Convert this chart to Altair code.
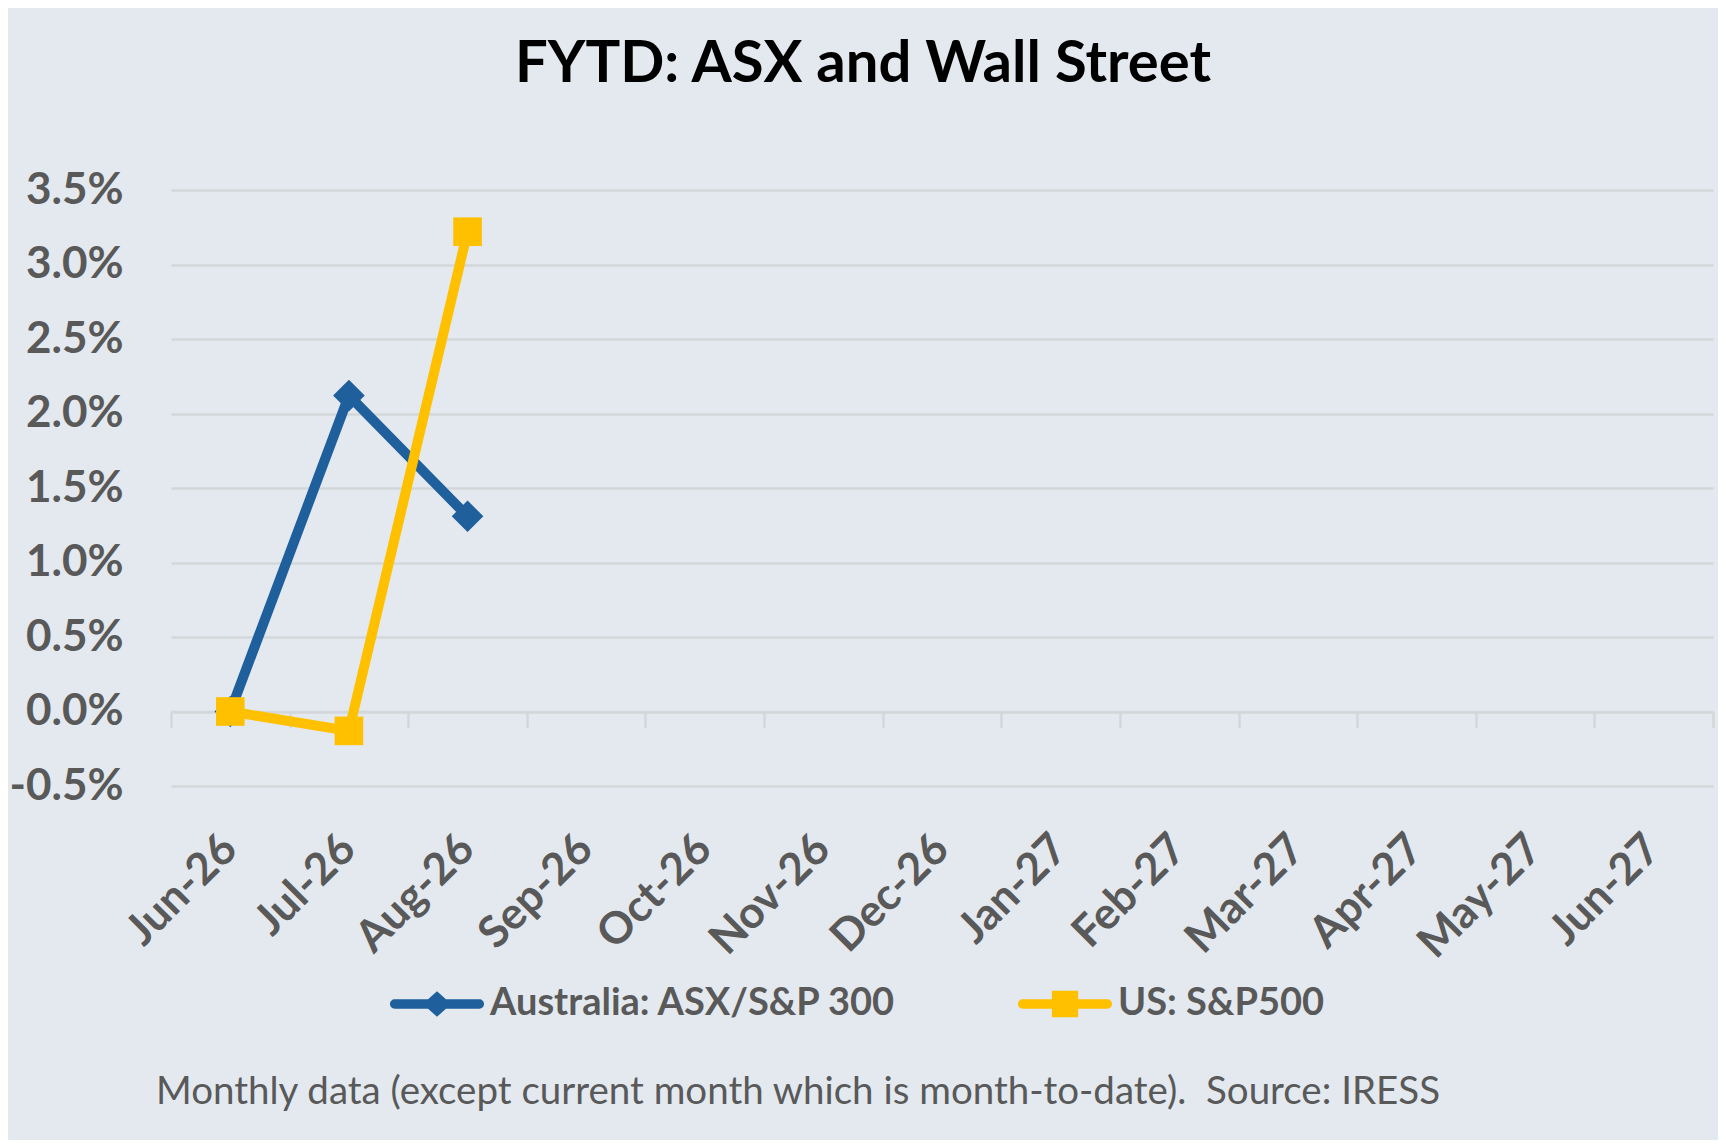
import altair as alt
import pandas as pd

# ---------------- data ----------------
months = ["Jun-26", "Jul-26", "Aug-26", "Sep-26", "Oct-26", "Nov-26", "Dec-26",
          "Jan-27", "Feb-27", "Mar-27", "Apr-27", "May-27", "Jun-27"]
asx_label = "Australia: ASX/S&P 300"
sp_label = "US: S&P500"
asx_months = ["Jun-26", "Jul-26", "Aug-26"]
asx_values = [0.0, 2.12, 1.31]          # percent
sp_months = ["Jun-26", "Jul-26", "Aug-26"]
sp_values = [0.0, -0.13, 3.22]          # percent
y_ticks = [-0.5, 0.0, 0.5, 1.0, 1.5, 2.0, 2.5, 3.0, 3.5]   # percent
title_text = "FYTD: ASX and Wall Street"
footnote_text = "Monthly data (except current month which is month-to-date).  Source: IRESS"

rows = []
for m, v in zip(asx_months, asx_values):
    rows.append({"month": m, "value": v / 100, "series": asx_label})
for m, v in zip(sp_months, sp_values):
    rows.append({"month": m, "value": v / 100, "series": sp_label})
df = pd.DataFrame(rows)
note_df = pd.DataFrame({"t": [footnote_text.replace("  ", "\u00a0 ")]})

# ---------------- style ----------------
W, H = 1542, 596
PAD = {"left": 163, "top": 182, "right": 5, "bottom": 354}
BG = "#E3E9EF"
GRID = "#D4D7DA"
LABEL = "#595959"
BLUE = "#1F5F9B"
GOLD = "#FFC000"
FONT = "Lato"

y_min, y_max = y_ticks[0] / 100, y_ticks[-1] / 100
zero_offset = -H * (0 - y_min) / (y_max - y_min)

x_scale = alt.Scale(type="band", domain=months, paddingInner=0, paddingOuter=0)
y_scale = alt.Scale(domain=[y_min, y_max], nice=False, zero=False)
col_scale = alt.Scale(domain=[asx_label, sp_label], range=[BLUE, GOLD])

DIAMOND = ("M-0.9,-0.1 L-0.19,-0.1 L0,-0.27 L0.19,-0.1 L0.9,-0.1 "
           "A0.1,0.1 0 0 1 0.9,0.1 L0.19,0.1 L0,0.27 L-0.19,0.1 L-0.9,0.1 "
           "A0.1,0.1 0 0 1 -0.9,-0.1 Z")
SQUARE = ("M-0.9,-0.1 L-0.28,-0.1 L-0.28,-0.28 L0.28,-0.28 L0.28,-0.1 L0.9,-0.1 "
          "A0.1,0.1 0 0 1 0.9,0.1 L0.28,0.1 L0.28,0.28 L-0.28,0.28 L-0.28,0.1 L-0.9,0.1 "
          "A0.1,0.1 0 0 1 -0.9,-0.1 Z")
sym_expr = f"datum.value === '{asx_label}' ? '{DIAMOND}' : '{SQUARE}'"

legend = alt.Legend(orient="none", legendX=219, legendY=767,
                    direction="horizontal", title=None,
                    symbolType={"expr": sym_expr},
                    symbolSize=94 * 94, symbolStrokeWidth=0, symbolOpacity=1,
                    labelFont=FONT, labelFontSize=38, labelFontWeight="bold",
                    labelColor=LABEL, labelOffset=6, columnPadding=120, labelLimit=0)

tick_axis = alt.Axis(orient="bottom", offset=zero_offset, labels=False,
                     domain=True, domainColor=GRID, domainWidth=2.5,
                     ticks=True, tickColor=GRID, tickWidth=2.5, tickSize=16,
                     tickBand="extent", grid=False, title=None)
label_axis = alt.Axis(orient="bottom", domain=False, ticks=False, grid=False,
                      labelAngle=-45, labelAlign="right", labelBaseline="middle",
                      labelPadding=56, labelFont=FONT, labelFontSize=44,
                      labelFontWeight="bold", labelColor=LABEL, title=None)
y_axis = alt.Axis(values=[t / 100 for t in y_ticks],
                  labelExpr="(datum.value < 0 ? '-' : '') + format(abs(datum.value), '.1%')",
                  domain=False, ticks=False, grid=True,
                  gridColor=GRID, gridWidth=2.5,
                  labelFont=FONT, labelFontSize=44, labelFontWeight="bold",
                  labelColor=LABEL, labelPadding=48, title=None)

base = alt.Chart(df)


def line_layer(label, color, axis=None):
    return base.transform_filter(alt.datum.series == label).mark_line(
        strokeWidth=10, strokeJoin="round", color=color
    ).encode(
        x=alt.X("month:N", scale=x_scale, title=None, axis=axis),
        y=alt.Y("value:Q", scale=y_scale, title=None, axis=y_axis),
    )


def point_layer(label, shape, size, axis=None):
    return base.transform_filter(alt.datum.series == label).mark_point(
        filled=True, opacity=1, size=size, shape=shape, strokeWidth=0
    ).encode(
        x=alt.X("month:N", scale=x_scale, title=None, axis=axis),
        y=alt.Y("value:Q", scale=y_scale, title=None, axis=y_axis),
        fill=alt.Fill("series:N", scale=col_scale, legend=legend),
    )


asx_line = line_layer(asx_label, BLUE, axis=tick_axis)
asx_pts = point_layer(asx_label, "diamond", 1000, axis=label_axis)
sp_line = line_layer(sp_label, GOLD)
sp_pts = point_layer(sp_label, "square", 820)

note = alt.Chart(note_df).mark_text(
    align="left", baseline="middle", font=FONT, fontSize=38.5, color=LABEL
).encode(text="t:N", x=alt.value(-15), y=alt.value(902))

chart = alt.layer(asx_line, asx_pts, sp_line, sp_pts, note).resolve_axis(
    x="independent"
).properties(
    width=W, height=H,
    padding=PAD,
    autosize=alt.AutoSizeParams(type="none"),
    title=alt.TitleParams(title_text, font=FONT, fontSize=58, fontWeight="bold",
                          color="black", anchor="middle", baseline="alphabetic",
                          offset=28, dx=-79),
).configure(background=BG).configure_view(stroke=None)

chart.save("out.html", embed_options={"renderer": "svg", "actions": False})
